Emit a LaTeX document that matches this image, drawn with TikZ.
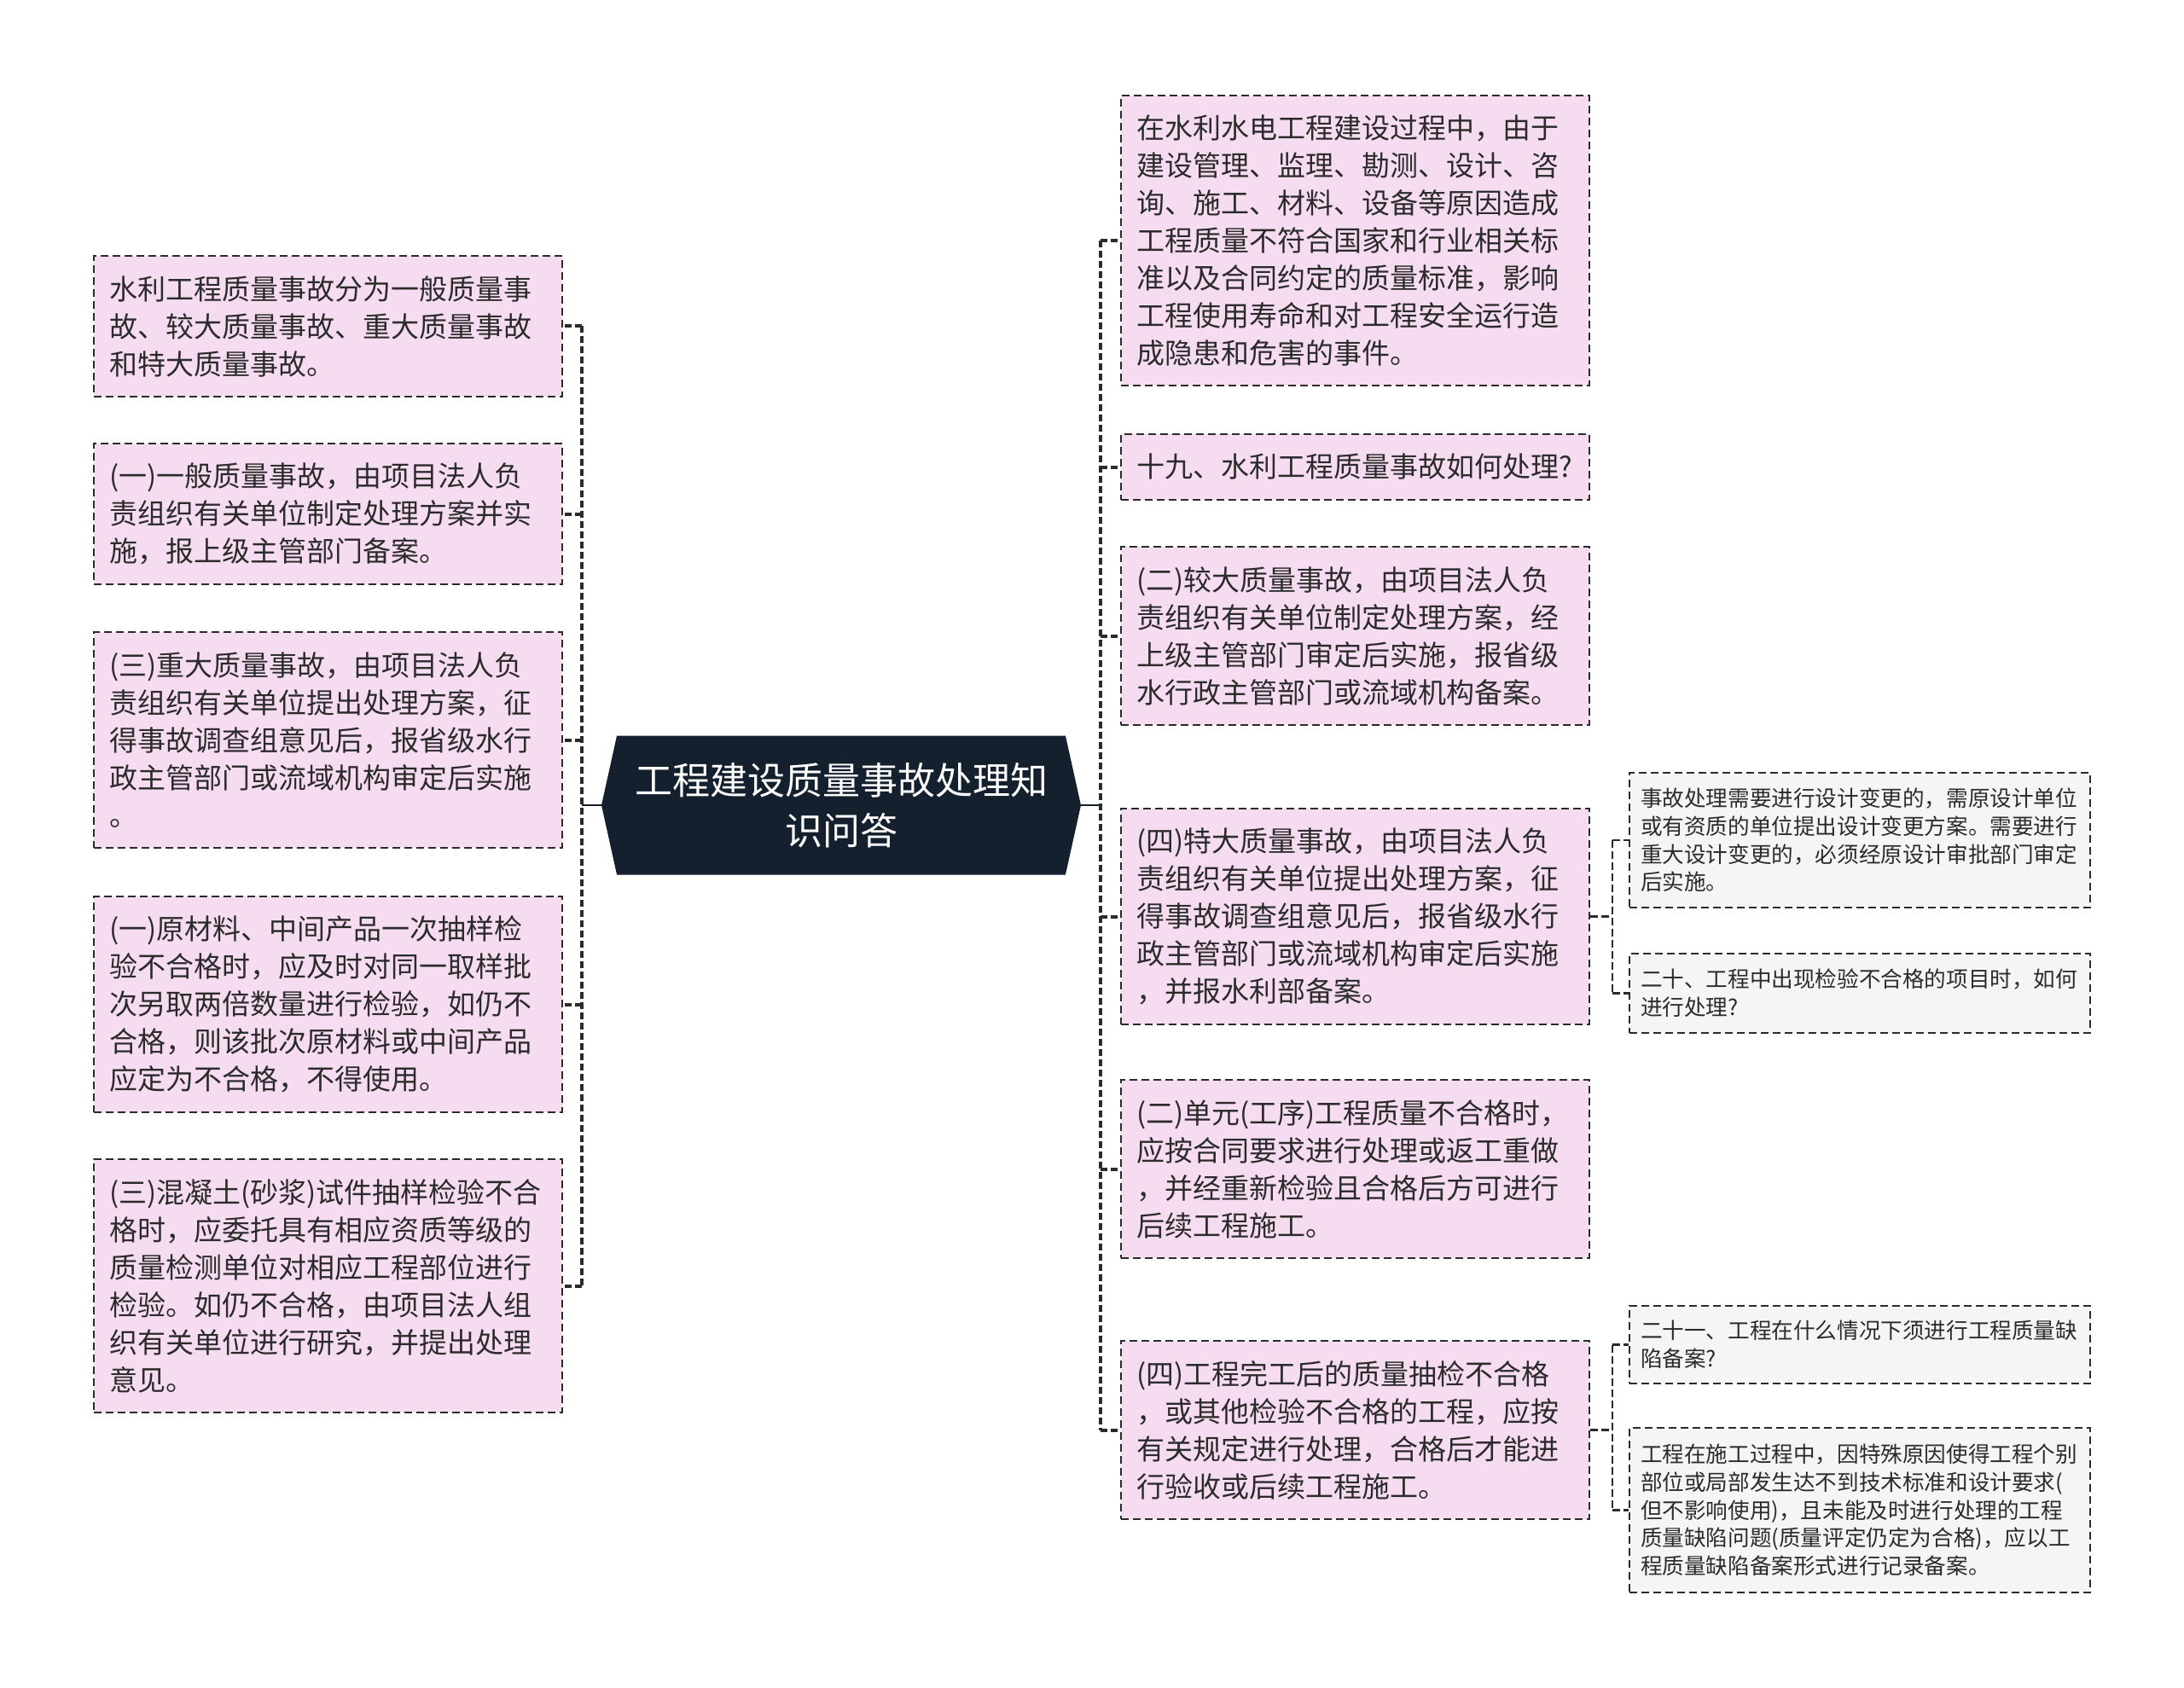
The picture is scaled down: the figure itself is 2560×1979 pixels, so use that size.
\documentclass[tikz,border=0pt]{standalone}
\usepackage{fontspec}
\setmainfont{Noto Sans CJK SC}
\usetikzlibrary{shapes.symbols, positioning}

\definecolor{rootfill}{HTML}{15202F}
\definecolor{pinkfill}{HTML}{F6DCF0}
\definecolor{grayfill}{HTML}{F5F5F5}
\definecolor{inkgray}{HTML}{2B2B2B}

\begin{document}
\begin{tikzpicture}[x=0.5pt, y=-0.5pt,
    topic/.style={signal, signal to=east and west, signal pointer angle=155,
        fill=rootfill, text=white, minimum width=281pt, minimum height=81.5pt,
        align=center, inner sep=0pt, font=\fontsize{22}{29.4}\selectfont},
    pinkbox/.style={draw=inkgray, line width=1pt, dash pattern=on 4.5pt off 2.5pt,
        fill=pinkfill, text=inkgray, anchor=north west, align=left,
        text width=256.5pt, inner xsep=9pt, inner ysep=0pt,
        font=\fontsize{16.5}{22}\selectfont},
    graybox/.style={pinkbox, fill=grayfill, text width=257pt, inner xsep=6.5pt,
        font=\fontsize{12.8}{16.3}\selectfont},
    trunk/.style={draw=inkgray, line width=2pt, dash pattern=on 4pt off 2pt},
    stem/.style={draw=rootfill, line width=1.3pt},
    twig/.style={draw=inkgray, line width=1.2pt, dash pattern=on 4.5pt off 2pt}]

    \fill[white] (0,0) rectangle (2560,1979);

    % centre topic
    \node[topic] (root) at (986,944) {工程建设质量事故处理知\\识问答};

    % left branches
    \node[pinkbox, minimum height=82.5pt] (l1) at (109,299)
        {水利工程质量事故分为一般质量事\\故、较大质量事故、重大质量事故\\和特大质量事故。};
    \node[pinkbox, minimum height=82.5pt] (l2) at (109,519)
        {(一)一般质量事故，由项目法人负\\责组织有关单位制定处理方案并实\\施，报上级主管部门备案。};
    \node[pinkbox, minimum height=126.5pt] (l3) at (109,740)
        {(三)重大质量事故，由项目法人负\\责组织有关单位提出处理方案，征\\得事故调查组意见后，报省级水行\\政主管部门或流域机构审定后实施\\。};
    \node[pinkbox, minimum height=126.5pt] (l4) at (109,1050)
        {(一)原材料、中间产品一次抽样检\\验不合格时，应及时对同一取样批\\次另取两倍数量进行检验，如仍不\\合格，则该批次原材料或中间产品\\应定为不合格，不得使用。};
    \node[pinkbox, minimum height=148.5pt] (l5) at (109,1358)
        {(三)混凝土(砂浆)试件抽样检验不合\\格时，应委托具有相应资质等级的\\质量检测单位对相应工程部位进行\\检验。如仍不合格，由项目法人组\\织有关单位进行研究，并提出处理\\意见。};

    % right branches
    \node[pinkbox, minimum height=170pt] (r1) at (1313,111)
        {在水利水电工程建设过程中，由于\\建设管理、监理、勘测、设计、咨\\询、施工、材料、设备等原因造成\\工程质量不符合国家和行业相关标\\准以及合同约定的质量标准，影响\\工程使用寿命和对工程安全运行造\\成隐患和危害的事件。};
    \node[pinkbox, minimum height=38.5pt] (r2) at (1313,508)
        {十九、水利工程质量事故如何处理?};
    \node[pinkbox, minimum height=104.5pt] (r3) at (1313,640)
        {(二)较大质量事故，由项目法人负\\责组织有关单位制定处理方案，经\\上级主管部门审定后实施，报省级\\水行政主管部门或流域机构备案。};
    \node[pinkbox, minimum height=126.5pt] (r4) at (1313,947)
        {(四)特大质量事故，由项目法人负\\责组织有关单位提出处理方案，征\\得事故调查组意见后，报省级水行\\政主管部门或流域机构审定后实施\\，并报水利部备案。};
    \node[pinkbox, minimum height=104.5pt] (r5) at (1313,1265)
        {(二)单元(工序)工程质量不合格时，\\应按合同要求进行处理或返工重做\\，并经重新检验且合格后方可进行\\后续工程施工。};
    \node[pinkbox, minimum height=104.5pt] (r6) at (1313,1571)
        {(四)工程完工后的质量抽检不合格\\，或其他检验不合格的工程，应按\\有关规定进行处理，合格后才能进\\行验收或后续工程施工。};

    % leaves
    \node[graybox, minimum height=79pt] (g1) at (1909,905)
        {事故处理需要进行设计变更的，需原设计单位\\或有资质的单位提出设计变更方案。需要进行\\重大设计变更的，必须经原设计审批部门审定\\后实施。};
    \node[graybox, minimum height=46.5pt] (g2) at (1909,1117)
        {二十、工程中出现检验不合格的项目时，如何\\进行处理?};
    \node[graybox, minimum height=45.5pt] (g3) at (1909,1530)
        {二十一、工程在什么情况下须进行工程质量缺\\陷备案?};
    \node[graybox, minimum height=96.5pt] (g4) at (1909,1673)
        {工程在施工过程中，因特殊原因使得工程个别\\部位或局部发生达不到技术标准和设计要求(\\但不影响使用)，且未能及时进行处理的工程\\质量缺陷问题(质量评定仍定为合格)，应以工\\程质量缺陷备案形式进行记录备案。};

    % connectors
    \path (root.west) ++(-23,0) coordinate (lt);
    \path (root.east) ++(23,0) coordinate (rt);
    \draw[stem] (root.west) -- (lt);
    \draw[stem] (root.east) -- (rt);
    \draw[trunk] (lt |- l1.east) -- (lt |- l5.east);
    \foreach \n in {l1,l2,l3,l4,l5}
        \draw[trunk] (lt |- \n.east) -- (\n.east);
    \draw[trunk] (rt |- r1.west) -- (rt |- r6.west);
    \foreach \n in {r1,r2,r3,r4,r5,r6}
        \draw[trunk] (rt |- \n.west) -- (\n.west);

    \path (r4.east) ++(26,0) coordinate (ga);
    \path (r6.east) ++(26,0) coordinate (gb);
    \draw[twig] (r4.east) -- (ga);
    \draw[twig] (r6.east) -- (gb);
    \draw[twig] (ga |- g1.west) -- (ga |- g2.west);
    \draw[twig] (gb |- g3.west) -- (gb |- g4.west);
    \foreach \n/\t in {g1/ga,g2/ga,g3/gb,g4/gb}
        \draw[twig] (\t |- \n.west) -- (\n.west);
\end{tikzpicture}
\end{document}
